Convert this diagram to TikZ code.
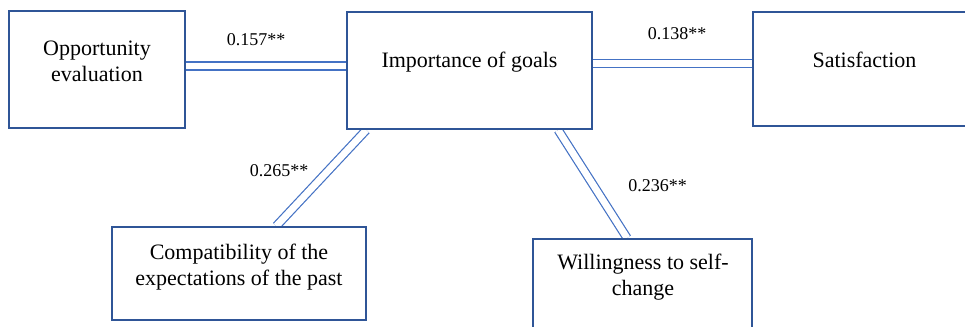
\documentclass[tikz,border=0pt]{standalone}
\usepackage{fontspec}
\setmainfont{Liberation Serif}
\usepackage{xcolor}
\usetikzlibrary{calc, backgrounds}
\definecolor{boxblue}{HTML}{2F5597}
\definecolor{lineblue}{HTML}{4472C4}
\tikzstyle{factor} = [draw=boxblue, line width=1pt, fill=white, inner sep=0pt]
\tikzstyle{factortext} = [align=center, inner sep=0pt, font=\fontsize{11}{13}\selectfont]
\tikzstyle{link} = [draw=lineblue, line width=0.6pt, double=white, double distance=3.4pt]
\tikzstyle{coef} = [inner sep=0pt, font=\fontsize{9}{11}\selectfont]

\begin{document}
\begin{tikzpicture}[x=0.5pt, y=-0.5pt]
        % Fix the frame of the picture
        \clip (0,0) rectangle (965,327);

        % Draw the boxes
        \node[factor, minimum width=88pt, minimum height=58.5pt] (opp) at (97,69.5) {};
        \node[factor, minimum width=122.5pt, minimum height=58.5pt] (goals) at (469.5,70.5) {};
        \node[factor, minimum width=112pt, minimum height=57pt] (sat) at (865,69) {};
        \node[factor, minimum width=127pt, minimum height=46.5pt] (compat) at (239,273.5) {};
        \node[factor, minimum width=109.5pt, minimum height=50pt] (will) at (642.5,289) {};

        % Texts in the boxes
        \node[factortext] (opptext) at (97,61) {Opportunity\\evaluation};
        \node[factortext] (goalstext) at (469.5,62) {Importance of goals};
        \node[factortext] (sattext) at (864.5,60) {Satisfaction};
        \node[factortext] (compattext) at (239,267.5) {Compatibility of the\\expectations of the past};
        \node[factortext] (willtext) at (643,277.5) {Willingness to self-\\change};

        % Double lines between the boxes
        \begin{pgfonlayer}{background}
        \draw[link] ([yshift=1.75pt]opp.east) -- ([yshift=1.75pt]opp.east -| goals.west);
        \draw[link] ([yshift=3.5pt]goals.east) -- ([yshift=3.5pt]goals.east -| sat.west);
        \draw[link] ($(goals.south west)!0.082!(goals.south east)$) -- ($(compat.north west)!0.646!(compat.north east)$);
        \draw[link] ($(goals.south west)!0.859!(goals.south east)$) -- ($(will.north west)!0.43!(will.north east)$);
        \end{pgfonlayer}

        % Coefficients
        \node[coef] (c1) at (256,40) {0.157**};
        \node[coef] (c2) at (677,33.5) {0.138**};
        \node[coef] (c3) at (279,170.5) {0.265**};
        \node[coef] (c4) at (657.5,186) {0.236**};
    \end{tikzpicture}
\end{document}
